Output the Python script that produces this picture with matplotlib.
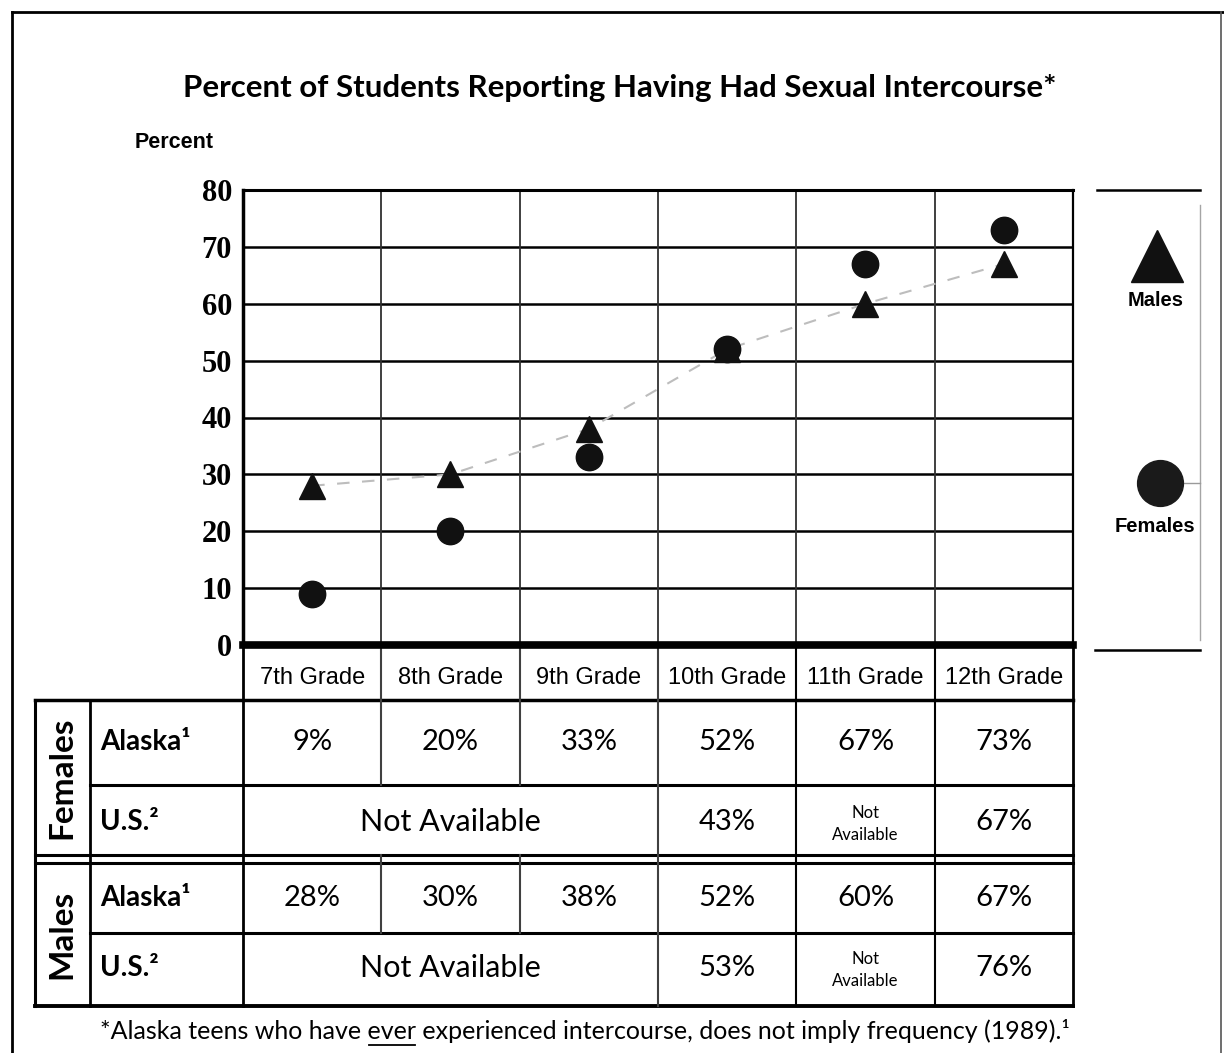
import numpy as np
import matplotlib
matplotlib.use("Agg")
import matplotlib.pyplot as plt

# ---------------- data ----------------
grades = ["7th Grade", "8th Grade", "9th Grade", "10th Grade", "11th Grade", "12th Grade"]
females_alaska = [9, 20, 33, 52, 67, 73]
males_alaska = [28, 30, 38, 52, 60, 67]
females_us = [None, None, None, 43, None, 67]
males_us = [None, None, None, 53, None, 76]
y_ticks = [0, 10, 20, 30, 40, 50, 60, 70, 80]

title = "Percent of Students Reporting Having Had Sexual Intercourse*"
footnote_pre = "*Alaska teens who have "
footnote_ul = "ever"
footnote_post = " experienced intercourse, does not imply frequency (1989).\u00b9"

# ---------------- layout (pixels) ----------------
W, H = 1224, 1053
AX_L, AX_R, AX_T, AX_B = 243, 1073, 190, 645
fig = plt.figure(figsize=(W / 100, H / 100), dpi=100)
fig.patch.set_facecolor("white")

ov = fig.add_axes([0, 0, 1, 1], zorder=-1)
ov.set_xlim(0, W)
ov.set_ylim(H, 0)
ov.axis("off")

ax = fig.add_axes([AX_L / W, 1 - AX_B / H, (AX_R - AX_L) / W, (AX_B - AX_T) / H], zorder=1)
ax.set_facecolor("none")
n = len(grades)
x = np.arange(n)
ax.set_xlim(-0.5, n - 0.5)
ax.set_ylim(0, 80)

# grid
for v in y_ticks[1:-1]:
    ax.axhline(v, color="black", lw=1.8, zorder=1)
for i in range(1, n):
    ax.axvline(i - 0.5, color="#303030", lw=1.3, zorder=1)
for s, lw in (("left", 2.5), ("bottom", 5.5), ("top", 2.2), ("right", 1.6)):
    ax.spines[s].set_linewidth(lw)
    ax.spines[s].set_color("black")

ax.set_xticks([])
ax.set_yticks(y_ticks)
ax.set_yticklabels([str(v) for v in y_ticks], fontfamily="Liberation Serif",
                   fontweight="bold", fontsize=22)
ax.tick_params(axis="y", length=0, pad=8)

# series
ax.plot(x, males_alaska, color="#bdbdbd", lw=1.5, ls=(0, (6, 6)), zorder=2)
ax.plot(x, males_alaska, ls="none", marker="^", ms=19, color="#111111", zorder=3)
ax.plot(x, females_alaska, ls="none", marker="o", ms=19, color="#111111", zorder=4)

# ---------------- texts ----------------
ov.text(620, 88, title, fontfamily="Lato", fontweight="bold", fontsize=22.5,
        ha="center", va="center")
ov.text(135, 143, "Percent", fontfamily="Liberation Sans", fontweight="bold",
        fontsize=15.5, ha="left", va="center")

# outer frame
ov.plot([12, 12], [12, H], color="black", lw=2)
ov.plot([12, W], [12, 12], color="black", lw=2)
ov.plot([1221, 1221], [12, H], color="#555555", lw=1.2)

# legend
ov.plot([1097, 1200], [190, 190], color="black", lw=1.8)
ov.plot([1095, 1200], [650, 650], color="black", lw=1.8)
ov.plot([1200, 1200], [205, 640], color="#a5a5a5", lw=1.0)
ov.plot([1182, 1200], [483, 483], color="#9a9a9a", lw=1.0)
ov.plot([1157], [256], marker="^", ms=38, color="#111111", ls="none")
ov.text(1156, 300, "Males", fontfamily="Liberation Sans", fontweight="bold",
        fontsize=14.5, ha="center", va="center")
ov.plot([1160], [483], marker="o", ms=33, color="#1a1a1a", ls="none")
ov.text(1155, 527, "Females", fontfamily="Liberation Sans", fontweight="bold",
        fontsize=14.5, ha="center", va="center")

# ---------------- table ----------------
edges = np.linspace(AX_L, AX_R, n + 1)
centers = (edges[:-1] + edges[1:]) / 2
T_HEAD_B = 700
R_F_SPLIT = 785
R_DBL1, R_DBL2 = 855, 863
R_M_SPLIT = 933
T_BOT = 1006
X_OUT, X_GRP = 35, 90
lc = "black"

ov.plot([X_OUT, AX_R], [T_HEAD_B, T_HEAD_B], color=lc, lw=2.5)
ov.plot([X_GRP, AX_R], [R_F_SPLIT, R_F_SPLIT], color=lc, lw=2.2)
ov.plot([X_OUT, AX_R], [R_DBL1, R_DBL1], color=lc, lw=2.2)
ov.plot([X_OUT, AX_R], [R_DBL2, R_DBL2], color=lc, lw=2.2)
ov.plot([X_GRP, AX_R], [R_M_SPLIT, R_M_SPLIT], color=lc, lw=2.2)
ov.plot([X_OUT, AX_R], [T_BOT, T_BOT], color=lc, lw=2.8)
ov.plot([X_OUT, X_OUT], [T_HEAD_B, T_BOT], color=lc, lw=2.2)
ov.plot([X_GRP, X_GRP], [T_HEAD_B, T_BOT], color=lc, lw=2.0)
ov.plot([AX_L, AX_L], [AX_B, T_BOT], color=lc, lw=2.0)
ov.plot([AX_R, AX_R], [AX_B, T_BOT], color=lc, lw=2.0)
na_span = [i for i in range(n) if females_us[i] is None]
for i in range(1, n):
    xe = edges[i]
    col = "#404040" if i <= 3 else lc
    if i in na_span and (i - 1) in na_span:
        segs = [(AX_B, R_F_SPLIT), (R_DBL1, R_M_SPLIT)]
    else:
        segs = [(AX_B, T_BOT)]
    for a, b in segs:
        ov.plot([xe, xe], [a, b], color=col, lw=1.5)

for c, g in zip(centers, grades):
    ov.text(c, 678, g, fontfamily="Liberation Sans", fontsize=17, ha="center", va="center")

TF = "Lato"
ov.text(62, 778, "Females", fontfamily=TF, fontweight="bold", fontsize=24,
        rotation=90, ha="center", va="center")
ov.text(62, 934, "Males", fontfamily=TF, fontweight="bold", fontsize=24,
        rotation=90, ha="center", va="center")
row_y = {"fa": 742, "fu": 822, "ma": 898, "mu": 968}
for key, lab in (("fa", "Alaska\u00b9"), ("fu", "U.S.\u00b2"), ("ma", "Alaska\u00b9"), ("mu", "U.S.\u00b2")):
    ov.text(100, row_y[key], lab, fontfamily=TF, fontweight="bold", fontsize=20,
            ha="left", va="center")

for i in range(n):
    ov.text(centers[i], row_y["fa"], f"{females_alaska[i]}%", fontfamily=TF, fontsize=21, ha="center", va="center")
    ov.text(centers[i], row_y["ma"], f"{males_alaska[i]}%", fontfamily=TF, fontsize=21, ha="center", va="center")

for vals, key in ((females_us, "fu"), (males_us, "mu")):
    na_first = [i for i in range(n) if vals[i] is None and (i == 0 or vals[i - 1] is None) and i < 3]
    xa = (edges[0] + edges[len(na_first)]) / 2
    ov.text(xa, row_y[key], "Not Available", fontfamily=TF, fontsize=22, ha="center", va="center")
    for i in range(len(na_first), n):
        if vals[i] is None:
            ov.text(centers[i], row_y[key] + 2, "Not\nAvailable", fontfamily=TF, fontsize=12,
                    ha="center", va="center", linespacing=1.5)
        else:
            ov.text(centers[i], row_y[key], f"{vals[i]}%", fontfamily=TF, fontsize=21, ha="center", va="center")

# footnote with underlined word
FN_SIZE = 18
fn_full = footnote_pre + footnote_ul + footnote_post
fig.canvas.draw()
r = fig.canvas.get_renderer()
probe = ov.text(0, 0, fn_full, fontfamily=TF, fontsize=FN_SIZE)
full_w = probe.get_window_extent(r).width
probe.set_text(footnote_pre)
pre_w = probe.get_window_extent(r).width
probe.set_text(footnote_ul)
ul_w = probe.get_window_extent(r).width
probe.remove()
x0 = 585 - full_w / 2
ov.text(x0, 1031, fn_full, fontfamily=TF, fontsize=FN_SIZE, ha="left", va="center")
ov.plot([x0 + pre_w + 1, x0 + pre_w + ul_w - 1], [1045, 1045], color="black", lw=1.3)

fig.savefig("out.png", dpi=100, facecolor="white")
